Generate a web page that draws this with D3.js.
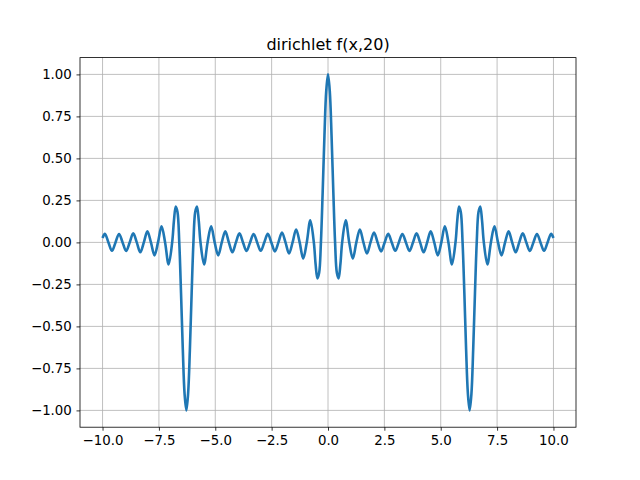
<!DOCTYPE html>
<html>
<head>
    <meta charset="utf-8">
    <title>dirichlet</title>
    <script src="https://cdn.jsdelivr.net/npm/d3@7"></script>
    <style>
        body { margin: 0; background: #fff; }
        text { font-family: "DejaVu Sans", sans-serif; }
    </style>
</head>
<body>
    <div id="chart"></div>
    <script>
        // values (zeros and extrema of the curve)
        var xValues = [
            -10.000, -9.896, -9.739, -9.582, -9.425, -9.268, -9.111, -8.954, -8.796, -8.639,
            -8.482, -8.325, -8.168, -8.011, -7.854, -7.697, -7.540, -7.383, -7.226, -7.069,
            -6.912, -6.833, -6.754, -6.676, -6.597, -6.519, -6.440, -6.362, -6.283, -6.205,
            -6.126, -6.048, -5.969, -5.890, -5.812, -5.733, -5.655, -5.498, -5.341, -5.184,
            -5.027, -4.869, -4.712, -4.555, -4.398, -4.241, -4.084, -3.927, -3.770, -3.613,
            -3.456, -3.299, -3.142, -2.985, -2.827, -2.670, -2.513, -2.356, -2.199, -2.042,
            -1.885, -1.728, -1.571, -1.414, -1.257, -1.100, -0.942, -0.785, -0.628, -0.550,
            -0.471, -0.393, -0.314, -0.236, -0.157, -0.079, 0.000,
            0.079, 0.157, 0.236, 0.314, 0.393, 0.471, 0.550, 0.628, 0.785, 0.942,
            1.100, 1.257, 1.414, 1.571, 1.728, 1.885, 2.042, 2.199, 2.356, 2.513,
            2.670, 2.827, 2.985, 3.142, 3.299, 3.456, 3.613, 3.770, 3.927, 4.084,
            4.241, 4.398, 4.555, 4.712, 4.869, 5.027, 5.184, 5.341, 5.498, 5.655,
            5.733, 5.812, 5.890, 5.969, 6.048, 6.126, 6.205, 6.283, 6.362, 6.440,
            6.519, 6.597, 6.676, 6.754, 6.833, 6.912, 7.069, 7.226, 7.383, 7.540,
            7.697, 7.854, 8.011, 8.168, 8.325, 8.482, 8.639, 8.796, 8.954, 9.111,
            9.268, 9.425, 9.582, 9.739, 9.896, 10.000
        ];
        var yValues = [
            0.026, 0.051, 0, -0.050, 0, 0.050, 0, -0.051, 0, 0.054,
            0, -0.059, 0, 0.066, 0, -0.077, 0, 0.096, 0, -0.131,
            0, 0.130, 0.214, 0.181, 0, -0.301, -0.637, -0.900, -1.000, -0.900,
            -0.637, -0.301, 0, 0.181, 0.214, 0.130, 0, -0.131, 0, 0.096,
            0, -0.077, 0, 0.066, 0, -0.059, 0, 0.054, 0, -0.051,
            0, 0.050, 0, -0.050, 0, 0.051, 0, -0.054, 0, 0.059,
            0, -0.066, 0, 0.077, 0, -0.096, 0, 0.131, 0, -0.130,
            -0.214, -0.181, 0, 0.301, 0.637, 0.900, 1.000,
            0.900, 0.637, 0.301, 0, -0.181, -0.214, -0.130, 0, 0.131, 0,
            -0.096, 0, 0.077, 0, -0.066, 0, 0.059, 0, -0.054, 0,
            0.051, 0, -0.050, 0, 0.050, 0, -0.051, 0, 0.054, 0,
            -0.059, 0, 0.066, 0, -0.077, 0, 0.096, 0, -0.131, 0,
            0.130, 0.214, 0.181, 0, -0.301, -0.637, -0.900, -1.000, -0.900, -0.637,
            -0.301, 0, 0.181, 0.214, 0.130, 0, -0.131, 0, 0.096, 0,
            -0.077, 0, 0.066, 0, -0.059, 0, 0.054, 0, -0.051, 0,
            0.050, 0, -0.050, 0, 0.051, 0.026
        ];
        var xTicks = [-10, -7.5, -5, -2.5, 0, 2.5, 5, 7.5, 10];
        var yTicks = [-1, -0.75, -0.5, -0.25, 0, 0.25, 0.5, 0.75, 1];
        var title = "dirichlet f(x,20)";

        var width = 640,
            height = 480;
        var axLeft = 80, axRight = 576, axTop = 57.6, axBottom = 427.2;

        var svg = d3.select("#chart").append("svg")
            .attr("width", width)
            .attr("height", height);

        var x = d3.scaleLinear().domain([-11, 11]).range([axLeft, axRight]);
        var y = d3.scaleLinear().domain([-1.1, 1.1]).range([axBottom, axTop]);

        var fmtX = function(d){ return d3.format(".1f")(d).replace("-", "\u2212"); };
        var fmtY = function(d){ return d3.format(".2f")(d).replace("-", "\u2212"); };

        // grid
        svg.append("g").selectAll("line").data(xTicks).enter().append("line")
            .attr("x1", function(d){ return x(d); }).attr("x2", function(d){ return x(d); })
            .attr("y1", axTop).attr("y2", axBottom)
            .attr("stroke", "#b0b0b0").attr("stroke-width", 0.8);
        svg.append("g").selectAll("line").data(yTicks).enter().append("line")
            .attr("y1", function(d){ return y(d); }).attr("y2", function(d){ return y(d); })
            .attr("x1", axLeft).attr("x2", axRight)
            .attr("stroke", "#b0b0b0").attr("stroke-width", 0.8);

        // the curve
        var pts = xValues.map(function(d, i){ return [d, yValues[i]]; });
        var line = d3.line()
            .x(function(d){ return x(d[0]); })
            .y(function(d){ return y(d[1]); })
            .curve(d3.curveCatmullRom.alpha(0.5));
        svg.append("path").datum(pts)
            .attr("d", line)
            .attr("fill", "none")
            .attr("stroke", "#1f77b4")
            .attr("stroke-width", 2.6)
            .attr("stroke-linejoin", "round")
            .attr("stroke-linecap", "butt");

        // axes
        var xAxis = svg.append("g").attr("transform", "translate(0," + axBottom + ")")
            .call(d3.axisBottom(x).tickValues(xTicks).tickFormat(fmtX).tickSize(3.5).tickPadding(4.7));
        var yAxis = svg.append("g").attr("transform", "translate(" + axLeft + ",0)")
            .call(d3.axisLeft(y).tickValues(yTicks).tickFormat(fmtY).tickSize(3.5).tickPadding(4.7));
        [xAxis, yAxis].forEach(function(a){
            a.select(".domain").remove();
            a.selectAll(".tick line").attr("stroke", "#000").attr("stroke-width", 0.8);
            a.selectAll(".tick text").attr("fill", "#000")
                .style("font-size", "13.33px").style("font-family", "DejaVu Sans");
        });

        // frame
        svg.append("rect")
            .attr("x", axLeft).attr("y", axTop)
            .attr("width", axRight - axLeft).attr("height", axBottom - axTop)
            .attr("fill", "none").attr("stroke", "#000").attr("stroke-width", 0.8);

        svg.append("text")
            .attr("x", (axLeft + axRight) / 2).attr("y", axTop - 8)
            .attr("text-anchor", "middle")
            .style("font-size", "16px")
            .text(title);
    </script>
</body>
</html>
